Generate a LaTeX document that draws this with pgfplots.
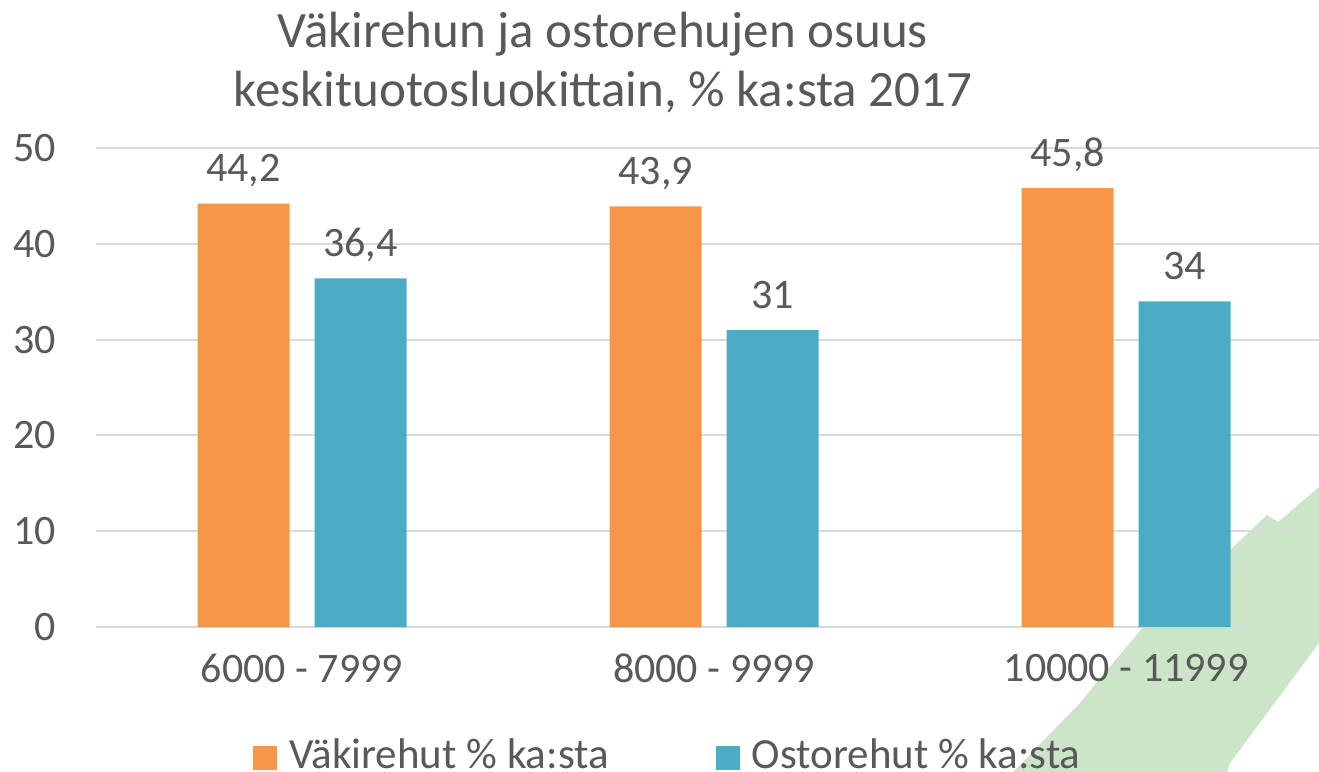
\documentclass[border=0pt]{standalone}
\usepackage{pgfplots}
\pgfplotsset{compat=1.18}
\usepackage{fontspec}
\setmainfont{Carlito}
\definecolor{txt}{HTML}{595959}
\definecolor{cor}{HTML}{F79646}
\definecolor{cte}{HTML}{4BACC6}
\definecolor{grd}{HTML}{D9D9D9}
\definecolor{lgreen}{HTML}{CCE5C8}
\begin{document}
\begin{tikzpicture}[x=1pt,y=1pt]
\useasboundingbox (0,0) rectangle (659.5,386);
\begin{scope}
\clip (0,0) rectangle (659.5,386);
\fill[lgreen] (506.5,0) -- (540,34.5) -- (571.5,72.5) -- (615,111) -- (633.5,128.5) -- (639,125) -- (659.5,142.5) -- (659.5,64.5) -- (615,4.5) -- (613.5,0) -- cycle;
\end{scope}
\begin{axis}[
  at={(48pt,72.5pt)}, anchor=south west,
  scale only axis, width=611.5pt, height=239.5pt,
  clip=false,
  ybar=12.5pt, bar width=46pt,
  xmin=-0.5, xmax=2.468, ymin=0, ymax=50,
  xtick={0,1,2}, xticklabels={6000 - 7999, 8000 - 9999, 10000 - 11999},
  ytick={0,10,20,30,40,50},
  major tick length=0pt,
  axis x line*=bottom, axis y line*=left,
  x axis line style={grd, line width=1pt, -},
  y axis line style={draw=none},
  ymajorgrids, grid style={grd, line width=1pt},
  /pgf/number format/assume math mode=true,
  /pgf/number format/use comma,
  tick label style={font=\fontsize{21pt}{25pt}\selectfont, text=txt},
  yticklabel style={xshift=-16.5pt},
  xticklabel style={yshift=-10pt},
  nodes near coords,
  every node near coord/.append style={font=\fontsize{21pt}{25pt}\selectfont, text=txt, anchor=base, yshift=11pt},
  legend columns=2,
  legend style={at={(0.4685,-0.267)}, anchor=center, draw=none, fill=none,
    font=\fontsize{21.5pt}{25pt}\selectfont, text=txt,
    /tikz/every odd column/.append style={column sep=4pt},
    /tikz/every even column/.append style={column sep=51.5pt}},
  legend image code/.code={\fill[#1] (0pt,-7.5pt) rectangle (12pt,4.5pt);},
]
\addplot[fill=cor, draw=none] coordinates {(0,44.2) (1,43.9) (2,45.8)};
\addplot[fill=cte, draw=none] coordinates {(0,36.4) (1,31) (2,34)};
\legend{Väkirehut \% ka:sta, Ostorehut \% ka:sta}
\end{axis}
\node[anchor=base, text=txt, font=\fontsize{25.5pt}{30pt}\selectfont] at (301.5,362) {Väkirehun ja ostorehujen osuus};
\node[anchor=base, text=txt, font=\fontsize{25.5pt}{30pt}\selectfont] at (301.5,332.5) {keskituotosluokittain, \% ka:sta 2017};
\end{tikzpicture}
\end{document}
